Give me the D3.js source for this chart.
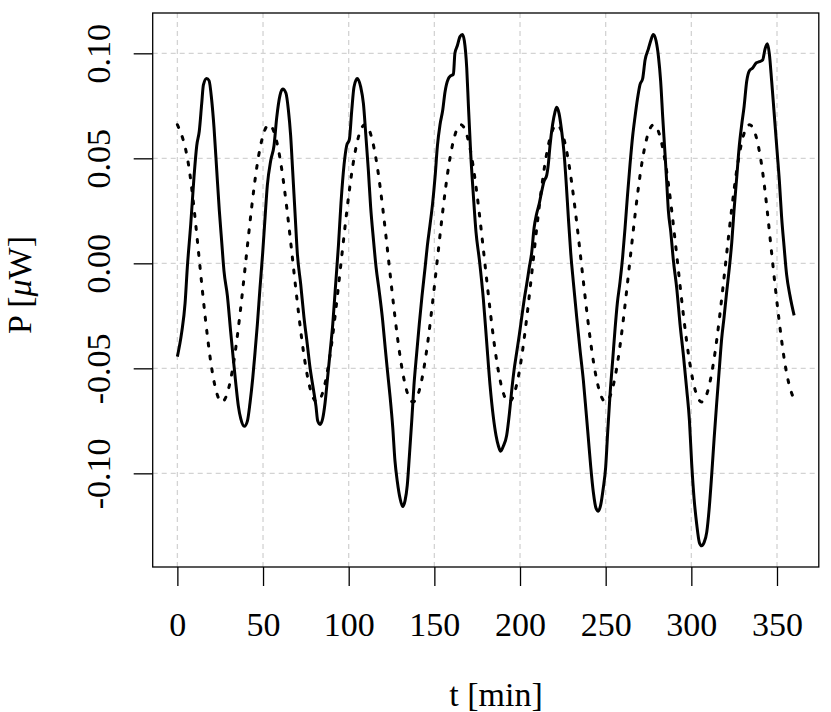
<!DOCTYPE html>
<html>
<head>
<meta charset="utf-8">
<script src="https://cdn.jsdelivr.net/npm/d3@7"></script>
<style>
  body { margin: 0; background: #fff; }
  svg { display: block; font-family: "Liberation Serif", "DejaVu Serif", serif; }
</style>
</head>
<body>
<svg id="power_svg" width="831" height="712"></svg>
<script>
const timeMin = [
  0, 2.5, 4.5, 5.8, 7.8, 9.7, 11.3, 12.8, 14.2, 15.2, 17.1, 18.5, 20, 21.4, 23, 24.5, 25.9, 27.2, 29.2, 31.1,
  32.7, 34.2, 35.6, 37, 39.1, 40.9, 42.4, 44, 45.3, 46.7, 48.2, 49.8, 51.2, 52.5, 54.5, 56.4, 58, 59.9, 61.5, 63.4,
  64.8, 66.1, 67.3, 68.7, 70, 72, 73.9, 75.9, 77.4, 79.4, 80.9, 81.9, 83.3, 84.8, 86.2, 87.5, 89.1, 90.7, 92.2, 94,
  95.5, 97.3, 98.8, 100.4, 101.8, 103.1, 105, 107, 108.6, 110, 111.5, 112.8, 114.4, 116, 117.9, 119.8, 121.4, 122.6, 124.1, 125.7,
  127, 128.4, 130, 131.5, 132.9, 134.2, 135.4, 136.8, 138.1, 139.7, 141.2, 142.8, 144.6, 145.9, 147.5, 149, 150.4, 151.8, 153.3, 154.9,
  156.2, 158.2, 159.1, 161.1, 162, 163.4, 165, 166.4, 167.5, 168.9, 169.9, 171.2, 172.8, 174.3, 176.3, 178.6, 180.5, 182.5, 184.4, 186,
  187.4, 188.7, 190.3, 192.2, 193.8, 195.1, 196.5, 198, 199.6, 201, 202.5, 203.9, 205.4, 206.8, 208.2, 209.7, 211.3, 212.6, 214, 215.6,
  216.5, 217.5, 219, 220.4, 221.4, 222.8, 224.3, 225.7, 226.9, 228.2, 229.6, 231.1, 233.1, 235, 237, 238.5, 239.9, 241.3, 242.8, 244.4,
  245.7, 247.1, 248.6, 250, 251.2, 252.5, 254.1, 255.5, 256.8, 258.4, 259.9, 261.3, 262.7, 264.2, 265.8, 267.1, 268.5, 270, 271.6, 273,
  274.9, 276.3, 277.8, 279.4, 280.8, 282.1, 283.3, 284.6, 285.6, 286.6, 288, 289.5, 291.5, 293.4, 295.4, 297.3, 298.9, 300.2, 301.6, 303.1,
  304.7, 306, 307.4, 309, 310.5, 311.9, 313.3, 314.8, 316.4, 317.7, 319.1, 320.6, 322.2, 323.6, 324.9, 326.5, 328, 329.4, 330.8, 332.3,
  333.9, 335.8, 337.8, 339.7, 341.6, 343, 344.4, 345.5, 346.9, 348.2, 349.8, 351.4, 352.7, 354.1, 355.6, 357.6, 360
];
const powerMeasured = [
  -0.0444, -0.033, -0.019, -0.002, 0.0185, 0.041, 0.056, 0.063, 0.076, 0.085, 0.088, 0.087, 0.078, 0.0645, 0.044, 0.025, 0.010, -0.0036, -0.0155, -0.0325,
  -0.046, -0.058, -0.068, -0.074, -0.0776, -0.075, -0.0665, -0.0546, -0.0427, -0.029, -0.012, 0.005, 0.022, 0.037, 0.049, 0.056, 0.0695, 0.080, 0.083, 0.081,
  0.073, 0.061, 0.044, 0.0236, 0.005, -0.010, -0.0257, -0.039, -0.0495, -0.060, -0.068, -0.075, -0.0767, -0.074, -0.0665, -0.056, -0.0427, -0.029, -0.012, 0.0083,
  0.0287, 0.047, 0.056, 0.059, 0.073, 0.084, 0.088, 0.084, 0.076, 0.061, 0.044, 0.027, 0.0117, -0.002, -0.0138, -0.027, -0.041, -0.051, -0.063, -0.078,
  -0.094, -0.104, -0.112, -0.1158, -0.113, -0.1056, -0.092, -0.075, -0.058, -0.0427, -0.029, -0.0155, -0.002, 0.0083, 0.0185, 0.0287, 0.041, 0.056, 0.066, 0.073,
  0.0815, 0.088, 0.089, 0.090, 0.100, 0.1036, 0.108, 0.109, 0.106, 0.093, 0.0747, 0.0526, 0.032, 0.015, 0.0015, -0.017, -0.037, -0.058, -0.073, -0.082,
  -0.087, -0.0895, -0.087, -0.082, -0.0716, -0.061, -0.051, -0.0427, -0.034, -0.0257, -0.017, -0.010, -0.002, 0.005, 0.0168, 0.0236, 0.0287, 0.034, 0.039, 0.042,
  0.047, 0.056, 0.066, 0.072, 0.0743, 0.0713, 0.063, 0.0526, 0.039, 0.022, 0.005, -0.0087, -0.0257, -0.041, -0.056, -0.070, -0.0835, -0.097, -0.109, -0.1167,
  -0.118, -0.115, -0.107, -0.097, -0.080, -0.063, -0.046, -0.031, -0.019, -0.0087, 0.003, 0.0168, 0.032, 0.047, 0.061, 0.0696, 0.078, 0.085, 0.088, 0.0968,
  0.102, 0.106, 0.109, 0.106, 0.0985, 0.0866, 0.0696, 0.0526, 0.039, 0.025, 0.015, 0.0015, -0.012, -0.029, -0.044, -0.060, -0.075, -0.0954, -0.112, -0.124,
  -0.133, -0.1345, -0.133, -0.128, -0.116, -0.1005, -0.0835, -0.0665, -0.0495, -0.036, -0.0257, -0.0138, -0.002, 0.010, 0.025, 0.041, 0.056, 0.066, 0.0747, 0.0866,
  0.0917, 0.093, 0.0954, 0.096, 0.0968, 0.102, 0.1045, 0.100, 0.0866, 0.073, 0.056, 0.039, 0.022, 0.0083, -0.0053, -0.0155, -0.0248
];

// fitted curve (dotted)
const fitTime = [
  0, 6.5, 13, 19.5, 26, 32.9, 39.8, 46.6, 53.5, 60.5, 67.5, 74.5, 81.5, 88.5, 95.5, 102.5, 109.5, 116.5, 123.5, 130.5,
  137.5, 144.5, 151.5, 158.5, 165.5, 172.5, 179.5, 186.5, 193.5, 200.5, 207.5, 214.5, 221.5, 228.6, 235.8, 242.9, 250, 257, 264, 271,
  278, 285, 292, 299, 306, 313, 320, 327, 334, 341, 347.5, 354.5, 360
];
const fitPower = [
  0.066, 0.047, 0, -0.047, -0.066, -0.047, 0, 0.047, 0.066, 0.047, 0, -0.047, -0.066, -0.047, 0, 0.047, 0.066, 0.047, 0, -0.047,
  -0.066, -0.047, 0, 0.047, 0.066, 0.047, 0, -0.047, -0.066, -0.047, 0, 0.047, 0.066, 0.047, 0, -0.047, -0.066, -0.047, 0, 0.047,
  0.066, 0.047, 0, -0.047, -0.066, -0.047, 0, 0.047, 0.066, 0.047, 0, -0.047, -0.065
];

const xTicks = [0, 50, 100, 150, 200, 250, 300, 350];
const yTicks = [-0.10, -0.05, 0.00, 0.05, 0.10];
const yTickLabels = ["-0.10", "-0.05", "0.00", "0.05", "0.10"];
const xDomain = [-14.4, 374.4];
const yDomain = [-0.1446, 0.1192];

const d3 = window.d3;
const plot = { left: 152.7, right: 818.8, top: 13, bottom: 567 };

const svg = d3.select("#power_svg");

const x = d3.scaleLinear().domain(xDomain).range([plot.left, plot.right]);
const y = d3.scaleLinear().domain(yDomain).range([plot.bottom, plot.top]);

// grid
const grid = svg.append("g").attr("stroke", "#d3d3d3").attr("stroke-width", 1.3)
  .attr("stroke-dasharray", "5,4");
grid.selectAll(".vgrid").data(xTicks).enter().append("line")
  .attr("x1", (d) => x(d)).attr("x2", (d) => x(d))
  .attr("y1", plot.top).attr("y2", plot.bottom);
grid.selectAll(".hgrid").data(yTicks).enter().append("line")
  .attr("x1", plot.left).attr("x2", plot.right)
  .attr("y1", (d) => y(d)).attr("y2", (d) => y(d));

// fitted curve
svg.append("path")
  .datum(fitTime.map((t, i) => [t, fitPower[i]]))
  .attr("fill", "none")
  .attr("stroke", "#000")
  .attr("stroke-width", 3)
  .attr("stroke-linecap", "round")
  .attr("stroke-dasharray", "3,10")
  .attr("d", d3.line().x((d) => x(d[0])).y((d) => y(d[1])).curve(d3.curveNatural));

// measured curve
svg.append("path")
  .datum(timeMin.map((t, i) => [t, powerMeasured[i]]))
  .attr("fill", "none")
  .attr("stroke", "#000")
  .attr("stroke-width", 3)
  .attr("stroke-linejoin", "round")
  .attr("d", d3.line().x((d) => x(d[0])).y((d) => y(d[1])).curve(d3.curveMonotoneX));

// box
svg.append("rect")
  .attr("x", plot.left).attr("y", plot.top)
  .attr("width", plot.right - plot.left).attr("height", plot.bottom - plot.top)
  .attr("fill", "none").attr("stroke", "#000").attr("stroke-width", 1.3);

// axes
svg.append("g")
  .attr("transform", `translate(0, ${plot.bottom})`)
  .call(d3.axisBottom(x).tickValues(xTicks).tickSize(19).tickPadding(26).tickFormat(d3.format("d")))
  .call((g) => g.select(".domain").remove())
  .call((g) => g.selectAll(".tick line").attr("stroke-width", 1.3))
  .call((g) => g.selectAll(".tick text")
    .attr("font-family", "Liberation Serif, serif").attr("font-size", 34).attr("fill", "#000"));

svg.append("g")
  .attr("transform", `translate(${plot.left}, 0)`)
  .call(d3.axisLeft(y).tickValues(yTicks).tickSize(19).tickFormat((d, i) => yTickLabels[i]))
  .call((g) => g.select(".domain").remove())
  .call((g) => g.selectAll(".tick line").attr("stroke-width", 1.3))
  .call((g) => g.selectAll(".tick text")
    .attr("x", 0).attr("y", 0).attr("dy", 0)
    .attr("text-anchor", "middle")
    .attr("transform", "translate(-42.7, 0) rotate(-90)")
    .attr("font-family", "Liberation Serif, serif").attr("font-size", 34).attr("fill", "#000"));

// axis titles
svg.append("text")
  .attr("x", 496).attr("y", 706)
  .attr("text-anchor", "middle")
  .attr("font-size", 34)
  .text("t [min]");

const ylab = svg.append("text")
  .attr("transform", "translate(31, 285) rotate(-90)")
  .attr("text-anchor", "middle")
  .attr("font-size", 34);
ylab.append("tspan").text("P [");
ylab.append("tspan").attr("font-style", "italic").text("μ");
ylab.append("tspan").text("W]");
</script>
</body>
</html>
